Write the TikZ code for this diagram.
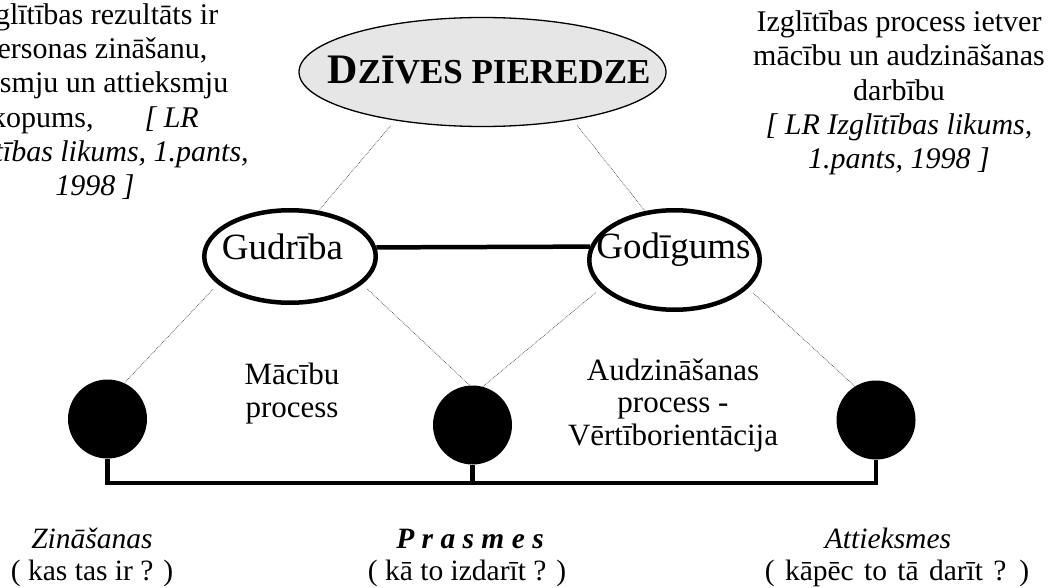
\documentclass[tikz,border=0pt]{standalone}
\usepackage{fontspec}
\setmainfont{Liberation Serif}
\usetikzlibrary{positioning, shapes.geometric}
\definecolor{ovalgray}{RGB}{230,230,230}
\definecolor{dotgray}{RGB}{70,70,70}

\begin{document}
\begin{tikzpicture}[x=1pt, y=-1pt,
  headoval/.style={ellipse, draw, line width=1.3pt, fill=ovalgray,
    minimum width=367pt, minimum height=109pt, inner sep=0pt},
  virtue/.style={ellipse, draw, line width=4.5pt, inner sep=0pt},
  virtuetxt/.style={anchor=base, inner sep=0pt, font=\fontsize{37}{40}\selectfont},
  stone/.style={circle, fill=black, minimum size=79pt, inner sep=0pt},
  link/.style={densely dotted, dotgray, line width=0.7pt, shorten <=7pt},
  rail/.style={line width=4.5pt},
  note/.style={anchor=base, align=center, font=\fontsize{30}{34}\selectfont},
  txt/.style={anchor=base, align=center, font=\fontsize{31}{32.5}\selectfont},
  foot/.style={anchor=base, font=\fontsize{29.5}{32}\selectfont}
]
  \useasboundingbox (0,0) rectangle (1048,588);
  \clip (0,0) rectangle (1048,588);

  % top oval and the two values
  \node[headoval] (pieredze) at (482.5,72) {};
  \node[anchor=base, inner sep=0pt] (pieredzetxt) at (489,84)
    {\bfseries{\fontsize{42}{42}\selectfont D}{\fontsize{35}{35}\selectfont ZĪVES PIEREDZE}};
  \node[virtue, minimum width=171.5pt, minimum height=92.5pt] (gud) at (290,256.5) {};
  \node[virtue, minimum width=170.5pt, minimum height=99.5pt] (god) at (674.5,260) {};
  \node[virtuetxt] (gudtxt) at (282.5,259) {Gudrība};
  \node[virtuetxt] (godtxt) at (673.5,258) {Godīgums};

  % the three results
  \node[stone] (zin) at (107.5,419) {};
  \node[stone] (pra) at (472.5,425) {};
  \node[stone] (att) at (876,420) {};

  \draw[line width=4.5pt] (gud.6) -- (god.171);

  \draw[link] (pieredze.209) -- (gud.58);
  \draw[link] (pieredze.-28) -- (god.121);
  \draw[link] (gud.201) -- (zin.65);
  \draw[link] (gud.-21) -- (pra.94);
  \draw[link] (god.201) -- (pra.75);
  \draw[link] (god.-21) -- (att.122);

  \coordinate (base) at (0,483);
  \draw[rail] (zin.south) -- (zin.south |- base) -- (att.south |- base) -- (att.south);
  \draw[rail] (pra.south) -- (pra.south |- base);

  % processes (base = last line)
  \node[txt] (macibu) at (292,417) {Mācību\\process};
  \node[txt] (audzin) at (673,445) {Audzināšanas\\process -\\Vērtīborientācija};

  % quotes (base = last line)
  \node[note] (rezultats) at (95,195) {Izglītības rezultāts ir\\personas zināšanu,\\prasmju un attieksmju\\kopums,\hspace{1.7em}\textit{[ LR}\\\textit{Izglītības likums, 1.pants,}\\\textit{1998 ]}};
  \node[note] (ietver) at (899,168) {Izglītības process ietver\\mācību un audzināšanas\\darbību\\\textit{[ LR Izglītības likums,}\\\textit{1.pants, 1998 ]}};

  % bottom labels
  \node[foot] (zinname) at (92,548) {\itshape Zināšanas};
  \node[foot] (zinq) at (92,580) {( kas tas ir ? )};
  \node[foot] (praname) at (470,548) {\bfseries\itshape P r a s m e s};
  \node[foot] (praq) at (467,580) {( kā to izdarīt ? )};
  \node[foot] (attname) at (888,548) {\itshape Attieksmes};
  \node[foot] (attq) at (897,580) {\spaceskip=0.35em ( kāpēc to tā darīt ? )};
\end{tikzpicture}
\end{document}
